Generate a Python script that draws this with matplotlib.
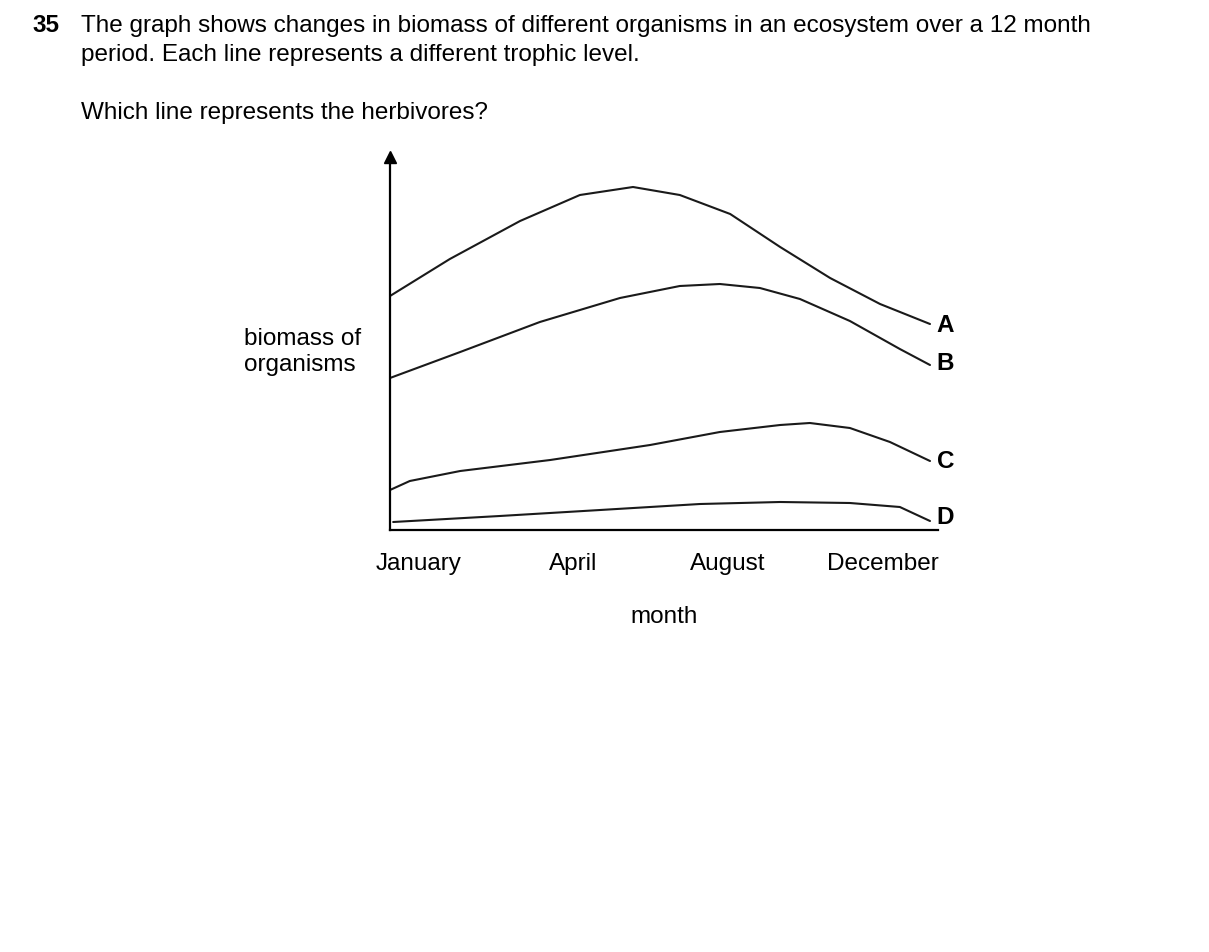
import matplotlib
matplotlib.use("Agg")
import matplotlib.pyplot as plt

# data (month index, relative biomass)
a_x = [0,1.33,2.89,4.22,5.4,6.44,7.56,8.67,9.78,10.89,12]
a_y = [234,271,309,335,343,335,316,283,252,226,206]
b_x = [0,1.56,3.33,5.11,6.44,7.33,8.22,9.11,10.22,11.33,12]
b_y = [152,178,208,232,244,246,242,231,209,181,165]
c_x = [0,0.44,1.56,3.56,5.78,7.33,8.67,9.33,10.22,11.11,12]
c_y = [40,49,59,70,85,98,105,107,102,88,69]
d_x = [0.07,2.44,4.67,6.89,8.67,10.22,11.33,12]
d_y = [8,14,20,26,28,27,23,9]
labels = ["A","B","C","D"]
tick_pos = [0.64,4.07,7.5,10.96]
tick_labels = ["January","April","August","December"]

FS = 17.5
W, H = 1209, 953
fig = plt.figure(figsize=(W/100, H/100), dpi=100)
plt.rcParams['font.family'] = ['Liberation Sans', 'DejaVu Sans']
ax = fig.add_axes([390/W, (H-531)/H, 548/W, 373/H])
ax.set_xlim(0, 548/45)
ax.set_ylim(0, 373)
for s in ["top","right"]:
    ax.spines[s].set_visible(False)
for s in ["left","bottom"]:
    ax.spines[s].set_linewidth(1.6)
ax.set_xticks(tick_pos)
ax.set_xticklabels(tick_labels, fontsize=FS)
ax.tick_params(axis='x', length=0, pad=16)
ax.set_yticks([])
ax.plot([0], [373], marker='^', color='black', markersize=9, clip_on=False)

offs = {"A": 0, "B": 3, "C": 0, "D": 5}
for xs, ys, lab in zip([a_x,b_x,c_x,d_x],[a_y,b_y,c_y,d_y],labels):
    ax.plot(xs, ys, color='#1a1a1a', lw=1.5, solid_capstyle='round')
    ax.text(xs[-1]+0.15, ys[-1]+offs[lab], lab, fontsize=FS,
            fontweight='bold', va='center', ha='left')

ax.set_xlabel("month", fontsize=FS, labelpad=22)
fig.text(244/W, 1-352/H, "biomass of\norganisms", fontsize=FS, va='center', ha='left', linespacing=1.25)

fig.text(32/W, 1-26/H, "35", fontsize=FS, fontweight='bold', va='center')
fig.text(81/W, 1-26/H, "The graph shows changes in biomass of different organisms in an ecosystem over a 12 month",
         fontsize=FS, va='center')
fig.text(81/W, 1-55/H, "period. Each line represents a different trophic level.", fontsize=FS, va='center')
fig.text(81/W, 1-113/H, "Which line represents the herbivores?", fontsize=FS, va='center')

fig.savefig("out.png", dpi=100)
